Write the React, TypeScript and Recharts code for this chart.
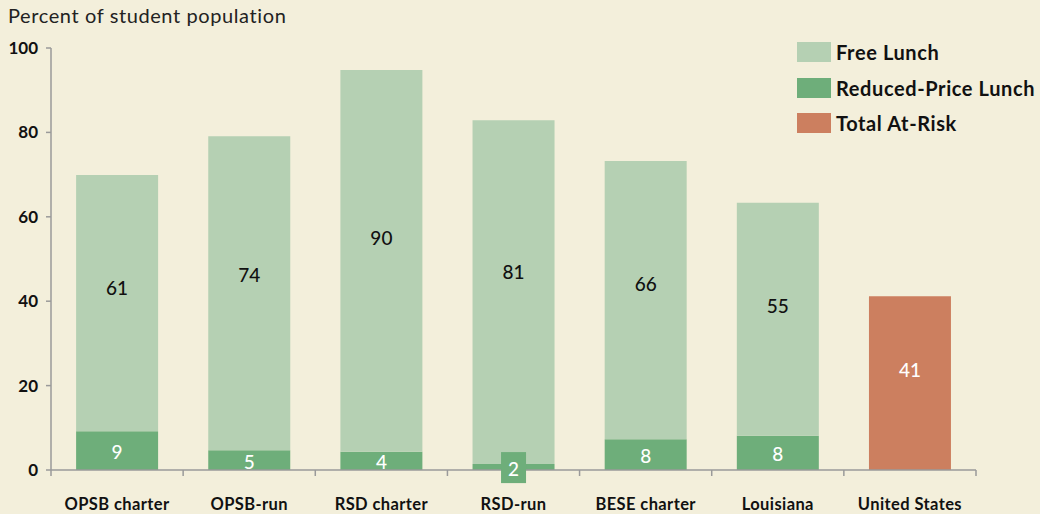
import React from 'react';
import { BarChart, Bar, XAxis, YAxis, LabelList } from 'recharts';

const categories = ['OPSB charter', 'OPSB-run', 'RSD charter', 'RSD-run', 'BESE charter', 'Louisiana', 'United States'];
const freeLunch = [60.7, 74.4, 90.5, 81.5, 65.9, 55.2, null];
const reducedLunch = [9.2, 4.7, 4.3, 1.4, 7.3, 8.1, null];
const atRisk = [null, null, null, null, null, null, 41.2];
const freeLabels = ['61', '74', '90', '81', '66', '55', ''];
const reducedLabels = ['9', '5', '4', '2', '8', '8', ''];
const atRiskLabels = ['', '', '', '', '', '', '41'];
const yTicks = [0, 20, 40, 60, 80, 100];

const W = 1040;
const H = 514;
const LEFT = 51;
const RIGHT = 976;
const TOP = 48;
const BOTTOM = 470;
const BAND = (RIGHT - LEFT) / categories.length;

const FONT = 'Lato, "Open Sans", sans-serif';
const BG = '#f3efdb';
const AXIS = '#9a9a9a';
const C_FREE = '#b5d0b3';
const C_REDUCED = '#6eae7a';
const C_RISK = '#cc7f5f';

const data = categories.map((name, i) => ({
  name,
  reduced: reducedLunch[i],
  free: freeLunch[i],
  atRisk: atRisk[i],
  reducedLabel: reducedLabels[i],
  freeLabel: freeLabels[i],
  atRiskLabel: atRiskLabels[i],
}));

// label drawn a bit above the middle of the segment, like the original
const makeLabel = (color: string, frac: number) => (props: any) => {
  const { x, y, width, height, value } = props;
  if (!value) return null;
  return (
    <text
      x={x + width / 2}
      y={y + height * frac}
      textAnchor="middle"
      dominantBaseline="central"
      fill={color}
      fontFamily={FONT}
      fontSize={19}
      fontWeight={500}
    >
      {value}
    </text>
  );
};

// reduced-price labels: white, and a small box when the segment is too thin
const ReducedLabel = (props: any) => {
  const { x, y, width, height, value } = props;
  if (!value) return null;
  const cx = x + width / 2;
  if (height < 12) {
    const top = y - 12;
    return (
      <g>
        <rect x={cx - 12.5} y={top} width={25} height={31} fill={C_REDUCED} />
        <text x={cx} y={top + 16} textAnchor="middle" dominantBaseline="central" fill="#fff"
          fontFamily={FONT} fontSize={19} fontWeight={500}>{value}</text>
      </g>
    );
  }
  return (
    <text x={cx} y={y + height / 2 + 1} textAnchor="middle" dominantBaseline="central" fill="#fff"
      fontFamily={FONT} fontSize={19} fontWeight={500}>
      {value}
    </text>
  );
};

// category label plus tick marks at the band boundaries
const CategoryTick = (props: any) => {
  const { x, y, payload, index } = props;
  const left = x - BAND / 2;
  const right = x + BAND / 2;
  return (
    <g>
      <line x1={left} y1={BOTTOM} x2={left} y2={BOTTOM + 6} stroke={AXIS} strokeWidth={1.5} />
      {index === categories.length - 1 && (
        <line x1={right} y1={BOTTOM} x2={right} y2={BOTTOM + 6} stroke={AXIS} strokeWidth={1.5} />
      )}
      <text x={x} y={y + 32} textAnchor="middle" fill="#111" fontFamily={FONT} fontSize={16.5}
        fontWeight={700} letterSpacing={0.4}>
        {payload.value}
      </text>
    </g>
  );
};

const legendItems = [
  { label: 'Free Lunch', color: C_FREE },
  { label: 'Reduced-Price Lunch', color: C_REDUCED },
  { label: 'Total At-Risk', color: C_RISK },
];

export default function App() {
  return (
    <div style={{ position: 'absolute', left: 0, top: 0, width: W, height: H, background: BG }}>
      <div style={{ position: 'absolute', left: 8, top: 3, fontFamily: FONT, fontSize: 20, letterSpacing: 0.6, color: '#222' }}>
        Percent of student population
      </div>
      <div style={{ position: 'absolute', left: 797, top: 34, width: 243, fontFamily: FONT, zIndex: 2 }}>
        {legendItems.map((it, i) => (
          <div key={it.label} style={{ display: 'flex', alignItems: 'center', height: i === 0 ? 36 : 35 }}>
            <span style={{ display: 'inline-block', width: 34, height: 20, background: it.color, marginRight: 5 }} />
            <span style={{ fontSize: 20, fontWeight: 700, color: '#111', letterSpacing: 0.6, whiteSpace: 'nowrap' }}>{it.label}</span>
          </div>
        ))}
      </div>
      <BarChart
        width={W}
        height={H}
        data={data}
        barCategoryGap="19%"
        margin={{ top: TOP, right: W - RIGHT, bottom: H - BOTTOM - 30, left: 0 }}
      >
        <XAxis
          dataKey="name"
          interval={0}
          axisLine={{ stroke: AXIS, strokeWidth: 1.5 }}
          tickLine={false}
          height={30}
          tick={<CategoryTick />}
        />
        <YAxis
          width={LEFT}
          domain={[0, 100]}
          ticks={yTicks}
          interval={0}
          axisLine={{ stroke: AXIS, strokeWidth: 1.5 }}
          tickLine={{ stroke: AXIS, strokeWidth: 1.5 }}
          tickSize={5}
          tickMargin={8}
          tick={{ fill: '#111', fontFamily: FONT, fontSize: 17, fontWeight: 700 }}
        />
        <Bar dataKey="reduced" stackId="a" fill={C_REDUCED} isAnimationActive={false}>
          <LabelList dataKey="reducedLabel" content={<ReducedLabel />} />
        </Bar>
        <Bar dataKey="free" stackId="a" fill={C_FREE} isAnimationActive={false}>
          <LabelList dataKey="freeLabel" content={makeLabel('#111', 0.44)} />
        </Bar>
        <Bar dataKey="atRisk" stackId="a" fill={C_RISK} isAnimationActive={false}>
          <LabelList dataKey="atRiskLabel" content={makeLabel('#fff', 0.42)} />
        </Bar>
      </BarChart>
    </div>
  );
}
